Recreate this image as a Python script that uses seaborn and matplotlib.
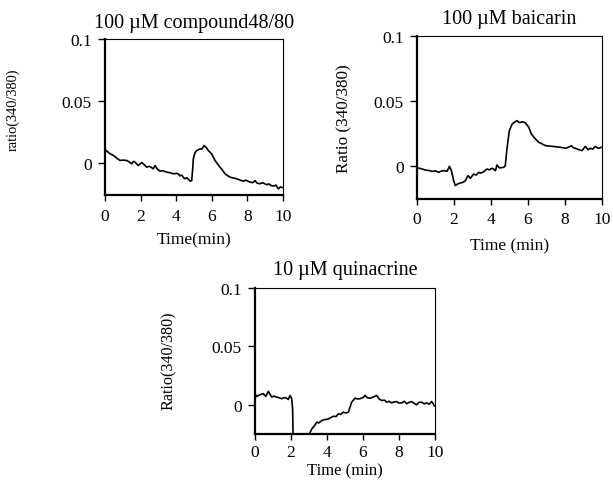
import numpy as np
import pandas as pd
import matplotlib
matplotlib.use("Agg")
import matplotlib.pyplot as plt
import seaborn as sns

# ---- data ----
t1 = [0.0, 0.1, 0.28, 0.45, 0.66, 0.84, 1.0, 1.22, 1.35, 1.5, 1.6, 1.69, 1.87, 2.06, 2.2, 2.34, 2.5,
      2.71, 2.81, 2.95, 3.09, 3.25, 3.46, 3.65, 3.84, 4.0, 4.12, 4.2, 4.31, 4.4, 4.49, 4.6, 4.78, 4.87,
      4.92, 4.96, 5.05, 5.15, 5.34, 5.45, 5.56, 5.68, 5.8, 5.99, 6.18, 6.3, 6.46, 6.6, 6.74, 7.02,
      7.2, 7.4, 7.6, 7.77, 7.9, 8.15, 8.3, 8.43, 8.55, 8.71, 8.85, 9.08, 9.2, 9.35, 9.46, 9.6, 9.74,
      9.85, 9.99]
r1 = [0.0105, 0.0095, 0.0073, 0.0062, 0.0038, 0.0019, 0.0022, 0.0019, 0.0008, -0.0008, 0.0012, 0.0005,
      -0.0022, 0.0003, -0.0015, -0.0035, -0.0028, -0.0048, -0.0022, -0.0052, -0.0067, -0.0064, -0.0075,
      -0.0080, -0.0089, -0.0085, -0.0089, -0.0105, -0.0100, -0.0118, -0.0129, -0.0120, -0.0148, -0.0144,
      -0.0060, 0.0032, 0.0080, 0.0099, 0.0113, 0.0112, 0.0140, 0.0125, 0.0099, 0.0073, 0.0019, -0.0005,
      -0.0035, -0.0060, -0.0089, -0.0116, -0.0122, -0.0129, -0.0140, -0.0148, -0.0140, -0.0156, -0.0160,
      -0.0144, -0.0165, -0.0169, -0.0160, -0.0177, -0.0170, -0.0185, -0.0188, -0.0180, -0.0210, -0.0195,
      -0.0200]

t2 = [0.0, 0.05, 0.25, 0.45, 0.65, 0.81, 1.0, 1.17, 1.3, 1.44, 1.62, 1.75, 1.86, 1.98, 2.07, 2.2,
      2.34, 2.5, 2.61, 2.76, 2.88, 3.06, 3.2, 3.33, 3.45, 3.6, 3.78, 3.9, 4.05, 4.15, 4.24, 4.32, 4.45,
      4.6, 4.69, 4.77, 4.86, 4.99, 5.14, 5.3, 5.41, 5.5, 5.59, 5.72, 5.86, 6.04, 6.18, 6.3, 6.4, 6.58,
      6.7, 6.85, 7.0, 7.3, 7.5, 7.74, 7.9, 8.02, 8.2, 8.34, 8.45, 8.56, 8.75, 8.92, 9.1, 9.25, 9.37,
      9.5, 9.64, 9.8, 9.97]
r2 = [-0.0010, -0.0015, -0.0022, -0.0031, -0.0035, -0.0041, -0.0038, -0.0049, -0.0040, -0.0036, -0.0041,
      -0.0003, -0.0036, -0.0113, -0.0151, -0.0138, -0.0131, -0.0125, -0.0113, -0.0074, -0.0095, -0.0062,
      -0.0070, -0.0049, -0.0055, -0.0044, -0.0023, -0.0030, -0.0018, -0.0025, -0.0036, 0.0008, -0.0015,
      -0.0012, -0.0010, 0.0002, 0.0131, 0.0272, 0.0323, 0.0340, 0.0349, 0.0335, 0.0336, 0.0340, 0.0331,
      0.0298, 0.0246, 0.0225, 0.0208, 0.0182, 0.0175, 0.0162, 0.0155, 0.0151, 0.0148, 0.0144, 0.0140,
      0.0136, 0.0145, 0.0156, 0.0140, 0.0136, 0.0125, 0.0118, 0.0151, 0.0125, 0.0136, 0.0130, 0.0151,
      0.0135, 0.0144]

t3 = [0.0, 0.1, 0.19, 0.3, 0.46, 0.6, 0.74, 0.93, 1.05, 1.2, 1.35, 1.48, 1.6, 1.76, 1.85, 1.94, 2.04,
      2.09, 2.15, 2.95, 3.02, 3.15, 3.3, 3.43, 3.55, 3.7, 3.85, 4.07, 4.2, 4.35, 4.5, 4.63, 4.75, 4.91,
      5.05, 5.19, 5.37, 5.56, 5.7, 5.83, 6.0, 6.11, 6.25, 6.39, 6.55, 6.76, 6.9, 7.04, 7.2, 7.31, 7.45,
      7.59, 7.73, 7.87, 8.0, 8.15, 8.3, 8.43, 8.55, 8.7, 8.85, 8.98, 9.1, 9.26, 9.4, 9.54, 9.68, 9.81,
      9.9, 9.96]
r3 = [0.0095, 0.0070, 0.0080, 0.0088, 0.0095, 0.0072, 0.0115, 0.0066, 0.0075, 0.0066, 0.0060, 0.0052,
      0.0062, 0.0057, 0.0045, 0.0080, 0.0052, -0.0034, -0.0600, -0.0600, -0.0250, -0.0207, -0.0180,
      -0.0149, -0.0155, -0.0135, -0.0128, -0.0121, -0.0110, -0.0098, -0.0100, -0.0078, -0.0082, -0.0063,
      -0.0070, -0.0063, 0.0023, 0.0057, 0.0050, 0.0052, 0.0062, 0.0080, 0.0060, 0.0057, 0.0065, 0.0080,
      0.0050, 0.0037, 0.0040, 0.0023, 0.0030, 0.0017, 0.0025, 0.0028, 0.0015, 0.0017, 0.0030, 0.0009,
      0.0020, 0.0028, 0.0012, 0.0000, 0.0020, 0.0023, 0.0008, 0.0017, 0.0005, 0.0028, 0.0010, -0.0011]

titles = ["100 \u00b5M compound48/80", "100 \u00b5M baicarin", "10 \u00b5M quinacrine"]
ylabels = ["ratio(340/380)", "Ratio (340/380)", "Ratio(340/380)"]
xlabels = ["Time(min)", "Time (min)", "Time (min)"]
xticks = [0, 2, 4, 6, 8, 10]
yticks = [0, 0.05, 0.1]
yticklabels = ["0", "0.05", "0.1"]

# ---- styling ----
sns.set_theme(style="white")
plt.rcParams["font.family"] = ["Liberation Serif", "DejaVu Serif"]

fig = plt.figure(figsize=(6.13, 4.81), dpi=100)

panels = [
    dict(t=t1, r=r1, rect=[0.1713, 0.5925, 0.2904, 0.3243], ylim=(-0.026, 0.1),
         ylab=(-0.478, 0.55), ylsize=10.4, xlab=(0.5, -0.235), xpad=4.5, tpad=9, xlsize=12.5),
    dict(t=t2, r=r2, rect=[0.6803, 0.5842, 0.3018, 0.3389], ylim=(-0.0254, 0.1),
         ylab=(-0.35, 0.50), ylsize=12.3, xlab=(0.5, -0.235), xpad=4.5, tpad=9, xlsize=12.5),
    dict(t=t3, r=r3, rect=[0.4160, 0.0956, 0.2936, 0.3035], ylim=(-0.025, 0.1),
         ylab=(-0.433, 0.51), ylsize=11.6, xlab=(0.5, -0.195), xpad=3.0, tpad=10, xlsize=12.0),
]

for i, p in enumerate(panels):
    ax = fig.add_axes(p["rect"])
    df = pd.DataFrame({"time": p["t"], "ratio": p["r"]})
    sns.lineplot(data=df, x="time", y="ratio", ax=ax, color="black", linewidth=1.2)
    ax.set_xlim(0, 10)
    ax.set_ylim(*p["ylim"])
    ax.set_xticks(xticks)
    ax.set_xticklabels([str(v) for v in xticks])
    ax.set_yticks(yticks)
    ax.set_yticklabels(yticklabels)
    ax.tick_params(axis="x", direction="out", length=4.5, width=1, pad=p["xpad"],
                   labelsize=12.5, bottom=True, colors="black")
    ax.tick_params(axis="y", direction="out", length=5, width=1, pad=4.5,
                   labelsize=12.5, left=True, colors="black")
    for side in ["left", "bottom"]:
        ax.spines[side].set_linewidth(1.6)
        ax.spines[side].set_color("black")
    for side in ["top", "right"]:
        ax.spines[side].set_linewidth(0.8)
        ax.spines[side].set_color("black")
    ax.set_title(titles[i], fontsize=14.5, pad=p["tpad"], color="black")
    ax.set_ylabel(ylabels[i], fontsize=p["ylsize"], color="black")
    ax.set_xlabel(xlabels[i], fontsize=p["xlsize"], color="black")
    ax.yaxis.set_label_coords(*p["ylab"])
    ax.xaxis.set_label_coords(*p["xlab"])
    ax.grid(False)

fig.savefig("out.png", dpi=100, facecolor="white")
